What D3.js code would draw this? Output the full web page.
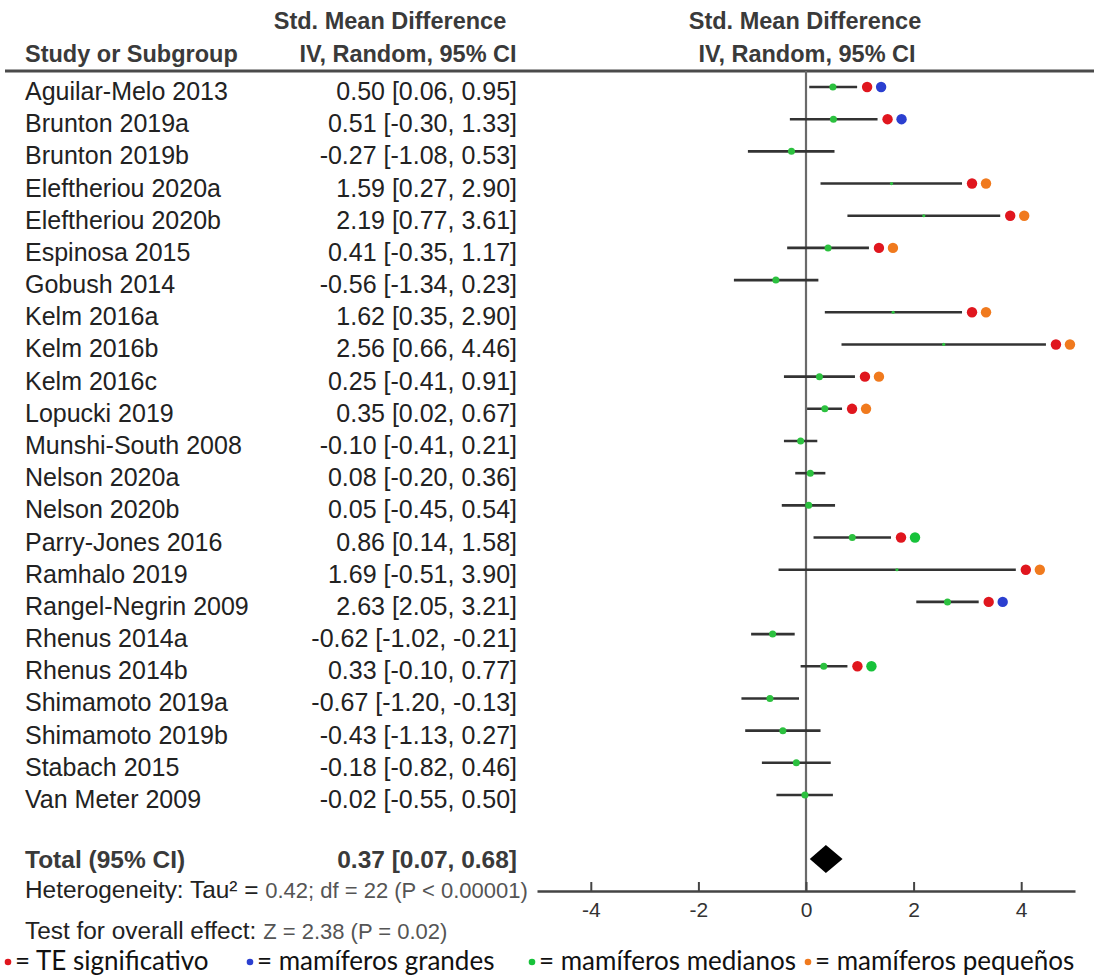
<!DOCTYPE html>
<html>
<head>
<meta charset="utf-8">
<script src="https://cdn.jsdelivr.net/npm/d3@7"></script>
<style>
  html, body { margin: 0; padding: 0; background: #fff; }
  svg { display: block; }
  text { font-family: "Liberation Sans", Arial, sans-serif; }
  text.legend-label { font-family: Lato, "Open Sans", sans-serif; }
</style>
</head>
<body>
<svg id="chart" width="1094" height="976"></svg>
<script>
// Study-level standardized mean differences (IV, random effects, 95% CI)
const studies = [
  "Aguilar-Melo 2013", "Brunton 2019a", "Brunton 2019b", "Eleftheriou 2020a",
  "Eleftheriou 2020b", "Espinosa 2015", "Gobush 2014", "Kelm 2016a", "Kelm 2016b",
  "Kelm 2016c", "Lopucki 2019", "Munshi-South 2008", "Nelson 2020a", "Nelson 2020b",
  "Parry-Jones 2016", "Ramhalo 2019", "Rangel-Negrin 2009", "Rhenus 2014a",
  "Rhenus 2014b", "Shimamoto 2019a", "Shimamoto 2019b", "Stabach 2015", "Van Meter 2009"
];
const smd    = [0.50, 0.51, -0.27, 1.59, 2.19, 0.41, -0.56, 1.62, 2.56, 0.25, 0.35, -0.10, 0.08, 0.05, 0.86, 1.69, 2.63, -0.62, 0.33, -0.67, -0.43, -0.18, -0.02];
const ciLow  = [0.06, -0.30, -1.08, 0.27, 0.77, -0.35, -1.34, 0.35, 0.66, -0.41, 0.02, -0.41, -0.20, -0.45, 0.14, -0.51, 2.05, -1.02, -0.10, -1.20, -1.13, -0.82, -0.55];
const ciHigh = [0.95, 1.33, 0.53, 2.90, 3.61, 1.17, 0.23, 2.90, 4.46, 0.91, 0.67, 0.21, 0.36, 0.54, 1.58, 3.90, 3.21, -0.21, 0.77, -0.13, 0.27, 0.46, 0.50];

// Flags: significant effect, and body-size group of the mammal studied
const significant = [1, 1, 0, 1, 1, 1, 0, 1, 1, 1, 1, 0, 0, 0, 1, 1, 1, 0, 1, 0, 0, 0, 0];
const mammalGroup = ["grandes", "grandes", null, "pequeños", "pequeños", "pequeños", null,
  "pequeños", "pequeños", "pequeños", "pequeños", null, null, null, "medianos", "pequeños",
  "grandes", null, "medianos", null, null, null, null];

// Pooled estimate
const total = { smd: 0.37, low: 0.07, high: 0.68 };
const heterogeneityLabel = "Heterogeneity: Tau² = ";
const heterogeneityStats = "0.42; df = 22 (P < 0.00001)";
const overallLabel = "Test for overall effect: ";
const overallStats = "Z = 2.38 (P = 0.02)";

// Axis
const axisTicks = [-4, -2, 0, 2, 4];
const axisDomain = [-5, 5];

// Legend entries
const legendKeys = ["sig", "grandes", "medianos", "pequeños"];
const legendLabels = ["= TE significativo", "= mamíferos grandes", "= mamíferos medianos", "= mamíferos pequeños"];

const colors = {
  sig: "#e0161e",
  grandes: "#2b3fd0",
  medianos: "#17c23a",
  "pequeños": "#f07a1e",
  point: "#2cc13f"
};

const svg = d3.select("#chart");
const x = d3.scaleLinear().domain(axisDomain).range([537, 1075]);
const y = d3.scalePoint().domain(studies).range([87, 795]);
const totalY = 859;
const axisY = 891;
const f2 = d3.format(".2f");
const fmt = v => f2(v).replace("−", "-");
const ciText = (m, l, h) => `${fmt(m)} [${fmt(l)}, ${fmt(h)}]`;

// Column headers
const header = svg.append("g").attr("fill", "#3a3a3a").attr("font-weight", "bold").attr("font-size", 23.5);
header.append("text").attr("x", 25).attr("y", 62).text("Study or Subgroup");
header.append("text").attr("x", 390).attr("y", 29).attr("text-anchor", "middle").text("Std. Mean Difference");
header.append("text").attr("x", 408).attr("y", 62).attr("text-anchor", "middle").text("IV, Random, 95% CI");
header.append("text").attr("x", 805).attr("y", 29).attr("text-anchor", "middle").text("Std. Mean Difference");
header.append("text").attr("x", 807).attr("y", 62).attr("text-anchor", "middle").text("IV, Random, 95% CI");

// Rule under the headers
svg.append("line")
  .attr("x1", 5).attr("x2", 1094).attr("y1", 71).attr("y2", 71)
  .attr("stroke", "#4a4a4a").attr("stroke-width", 3);

// Line of no effect
svg.append("line")
  .attr("x1", x(0)).attr("x2", x(0)).attr("y1", 71).attr("y2", axisY)
  .attr("stroke", "#6a6a6a").attr("stroke-width", 2.2);

// Study labels and estimates
const rows = svg.append("g").attr("font-size", 25).attr("fill", "#222");
studies.forEach((s, i) => {
  rows.append("text").attr("x", 25).attr("y", y(s) + 13).text(s);
  rows.append("text").attr("x", 517).attr("y", y(s) + 13).attr("text-anchor", "end")
    .text(ciText(smd[i], ciLow[i], ciHigh[i]));
});

// Confidence intervals
svg.append("g").selectAll("line").data(studies).join("line")
  .attr("x1", (d, i) => x(ciLow[i])).attr("x2", (d, i) => x(ciHigh[i]))
  .attr("y1", d => y(d)).attr("y2", d => y(d))
  .attr("stroke", "#333").attr("stroke-width", 2.6);

// Point estimates (smaller for wider intervals)
svg.append("g").selectAll("circle").data(studies).join("circle")
  .attr("cx", (d, i) => x(smd[i])).attr("cy", d => y(d))
  .attr("r", (d, i) => (ciHigh[i] - ciLow[i]) > 2 ? 1.6 : 3.5)
  .attr("fill", colors.point);

// Classification markers beyond the upper CI bound
const markers = svg.append("g");
studies.forEach((s, i) => {
  if (significant[i]) {
    markers.append("circle").attr("cx", x(ciHigh[i]) + 10).attr("cy", y(s)).attr("r", 5.2).attr("fill", colors.sig);
  }
  if (mammalGroup[i]) {
    markers.append("circle").attr("cx", x(ciHigh[i]) + 24).attr("cy", y(s)).attr("r", 5.2).attr("fill", colors[mammalGroup[i]]);
  }
});

// Pooled total
const tot = svg.append("g").attr("font-weight", "bold").attr("font-size", 24.5).attr("fill", "#3a3a3a");
tot.append("text").attr("x", 25).attr("y", totalY + 9).text("Total (95% CI)");
tot.append("text").attr("x", 517).attr("y", totalY + 9).attr("text-anchor", "end")
  .text(ciText(total.smd, total.low, total.high));
svg.append("path")
  .attr("d", `M${x(total.low)},${totalY} L${x(total.smd)},${totalY - 14} L${x(total.high)},${totalY} L${x(total.smd)},${totalY + 14} Z`)
  .attr("fill", "#000");

// Axis
const axis = svg.append("g").attr("transform", `translate(0,${axisY})`)
  .call(d3.axisBottom(x).tickValues(axisTicks).tickFormat(d => String(d))
    .tickSizeInner(-9).tickSizeOuter(0).tickPadding(11));
axis.select(".domain").attr("stroke", "#444").attr("stroke-width", 2.6);
axis.selectAll(".tick line").attr("stroke", "#444").attr("stroke-width", 2);
axis.selectAll(".tick text").attr("font-size", 21).attr("fill", "#333");

// Heterogeneity and overall effect
const stats = svg.append("g").attr("font-size", 24.4).attr("fill", "#222");
const h = stats.append("text").attr("x", 25).attr("y", 898);
h.append("tspan").text(heterogeneityLabel);
h.append("tspan").attr("fill", "#555").attr("font-size", 22).text(heterogeneityStats);
const o = stats.append("text").attr("x", 25).attr("y", 939);
o.append("tspan").text(overallLabel);
o.append("tspan").attr("fill", "#555").attr("font-size", 22).text(overallStats);

// Legend
const legendX = [8, 250, 532, 808];
const legend = svg.append("g").attr("font-size", 26).attr("fill", "#111");
legendKeys.forEach((k, i) => {
  legend.append("circle").attr("cx", legendX[i]).attr("cy", 962).attr("r", 3.3).attr("fill", colors[k]);
  legend.append("text").attr("class", "legend-label")
    .attr("x", legendX[i] + 7).attr("y", 970).text(legendLabels[i]);
});
</script>
</body>
</html>
